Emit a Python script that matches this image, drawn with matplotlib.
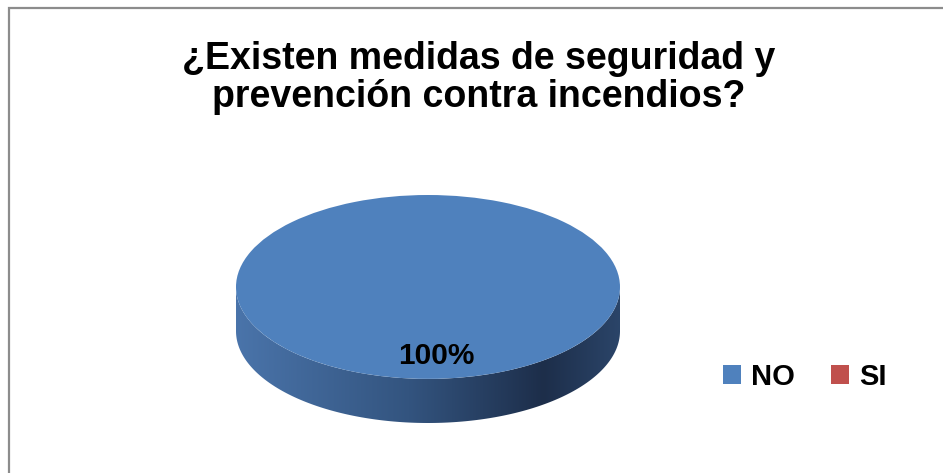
import numpy as np
import matplotlib
matplotlib.use("Agg")
import matplotlib.pyplot as plt
from matplotlib.colors import LinearSegmentedColormap
from matplotlib.patches import Polygon, Rectangle

respuestas = ["NO", "SI"]
porcentajes = [100, 0]
colores = ["#4F81BD", "#C0504D"]
titulo = ["¿Existen medidas de seguridad y", "prevención contra incendios?"]

plt.rcParams["font.family"] = ["Liberation Sans", "DejaVu Sans"]

W, H = 943, 473
fig = plt.figure(figsize=(W / 100, H / 100), dpi=100)

# marco del grafico
fig.patches.append(Rectangle((9 / W, -0.05), 1.1, (H - 8) / H + 0.05,
                             transform=fig.transFigure, fill=False,
                             edgecolor="#8c8c8c", lw=1.6))

# titulo en dos lineas
for i, linea in enumerate(titulo):
    fig.text(479 / W, 1 - (69 + 38 * i) / H, linea, ha="center", va="baseline",
             fontsize=27, fontweight="bold")

# pastel con grosor
grosor = 0.48
ax = fig.add_axes([236 / W, 50 / H, 384 / W, 228 / H])

def etiqueta(p):
    return "%d%%" % round(p) if p > 0 else ""

wedges, textos, autotextos = ax.pie(porcentajes, colors=colores, startangle=90,
                                    autopct=etiqueta, pctdistance=0.75,
                                    wedgeprops=dict(lw=0, zorder=3))
for t in autotextos:
    t.set_fontsize(21.5)
    t.set_fontweight("bold")
    t.set_color("black")
    t.set_zorder(5)
    t.set_x(t.get_position()[0] + 0.045)

ax.set_aspect("auto")

ang = np.linspace(np.pi, 2 * np.pi, 200)
lado = np.vstack([
    np.column_stack([np.cos(ang), np.sin(ang)]),
    np.column_stack([np.cos(ang[::-1]), np.sin(ang[::-1]) - grosor]),
])
clip = Polygon(lado, closed=True, transform=ax.transData, fc="none", ec="none")
ax.add_patch(clip)

cmap = LinearSegmentedColormap.from_list("lado", [
    (0.0, "#4a74aa"), (0.45, "#33547f"), (0.8, "#1d2e4a"), (1.0, "#2b4569")])
grad = np.linspace(0, 1, 256).reshape(1, -1)
img = ax.imshow(grad, cmap=cmap, extent=(-1, 1, -1 - grosor, 0),
                aspect="auto", zorder=1, interpolation="bilinear")
img.set_clip_path(clip)
ax.set_xlim(-1, 1)
ax.set_ylim(-1 - grosor, 1)
ax.axis("off")

leg = fig.legend(wedges, respuestas, loc="center left",
                 bbox_to_anchor=(697 / W, 1 - 377 / H), ncol=2, frameon=False,
                 prop=dict(size=21, weight="bold"), handlelength=0.6,
                 handleheight=0.6, handletextpad=0.35, columnspacing=1.25)

fig.savefig("out.png", dpi=100, facecolor="white")
